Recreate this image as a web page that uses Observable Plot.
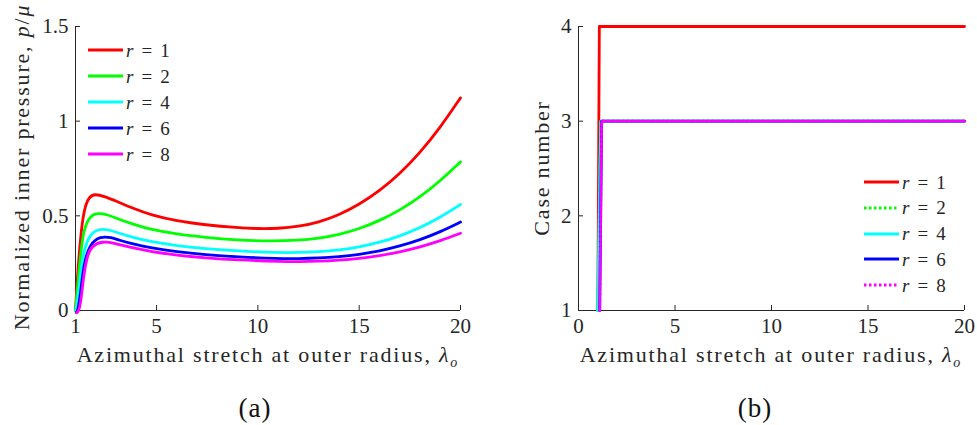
<!DOCTYPE html>
<html><head><meta charset="utf-8">
<script src="https://cdn.jsdelivr.net/npm/d3@7"></script>
<script src="https://cdn.jsdelivr.net/npm/@observablehq/plot@0.6"></script>
<style>
body{margin:0;background:#fff;font-family:"Liberation Serif","Times New Roman",serif;}
#wrap{position:relative;width:977px;height:425px;overflow:hidden;background:#fff}
.panel{position:absolute;top:0}
.lab{position:absolute;font-size:22px;letter-spacing:1.8px;color:#262626;white-space:nowrap;line-height:1}
.cap{position:absolute;font-size:27px;letter-spacing:1px;color:#111;white-space:nowrap;line-height:1}
.rot{transform:translate(-50%,-50%) rotate(-90deg)}
.ctr{transform:translate(-50%,-50%)}
.leg{position:absolute;font-size:19px;color:#262626;white-space:nowrap;line-height:1}
.leg .row{position:absolute;left:0;display:flex;align-items:center;height:24px}
.leg svg{display:block}
.leg .txt{margin-left:3px}
.leg .eq{padding:0 8px}
sub{font-size:14px;vertical-align:-5px;letter-spacing:0}
</style>
</head><body>
<div id="wrap"></div>
<script>
// ---------- data ----------
const rValues = [1, 2, 4, 6, 8];
const colors = ["#ff0000", "#00ff00", "#00ffff", "#0000ff", "#ff00ff"];

// panel (a): normalized inner pressure vs azimuthal stretch
const lamR1 = [1, 1.08, 1.25, 1.41, 1.65, 1.95, 2.4, 3, 3.9, 4.7, 6, 7.4, 9, 10, 11, 12, 13, 14, 15, 16, 17, 18, 19, 20];
const pR1   = [0, 0.16, 0.39, 0.53, 0.6, 0.616, 0.604, 0.578, 0.537, 0.505, 0.472, 0.452, 0.437, 0.432, 0.433, 0.443, 0.466, 0.504, 0.56, 0.631, 0.721, 0.833, 0.966, 1.123];
const lamR2 = [1, 1.1, 1.25, 1.41, 1.7, 2.07, 2.6, 3, 3.9, 4.7, 6, 7.4, 9, 10.5, 12, 13, 14, 15, 16, 17, 18, 19, 20];
const pR2   = [0, 0.12, 0.3, 0.43, 0.498, 0.516, 0.506, 0.487, 0.454, 0.428, 0.403, 0.386, 0.372, 0.366, 0.370, 0.381, 0.401, 0.431, 0.474, 0.529, 0.599, 0.684, 0.785];
const lamR4 = [1.02, 1.12, 1.25, 1.41, 1.7, 2.15, 2.7, 3.1, 3.9, 4.7, 6, 7.4, 9, 11, 12, 13, 14, 15, 16, 17, 18, 19, 20];
const pR4   = [0, 0.06, 0.195, 0.317, 0.402, 0.433, 0.425, 0.41, 0.384, 0.364, 0.342, 0.327, 0.314, 0.305, 0.306, 0.310, 0.319, 0.335, 0.359, 0.393, 0.436, 0.492, 0.56];
const lamR6 = [1.04, 1.12, 1.25, 1.41, 1.7, 2.23, 2.8, 3.1, 3.9, 4.7, 6, 7.4, 9, 11, 12, 13, 14, 15, 16, 17, 18, 19, 20];
const pR6   = [-0.01, 0.0, 0.09, 0.247, 0.352, 0.393, 0.385, 0.373, 0.349, 0.331, 0.31, 0.295, 0.283, 0.274, 0.274, 0.277, 0.284, 0.296, 0.314, 0.340, 0.373, 0.415, 0.467];
const lamR8 = [1.06, 1.14, 1.25, 1.41, 1.58, 1.8, 2.32, 2.9, 3.9, 4.7, 6, 7.4, 9, 11.3, 12, 13, 14, 15, 16, 17, 18, 19, 20];
const pR8   = [-0.012, -0.005, 0.03, 0.19, 0.29, 0.342, 0.366, 0.357, 0.328, 0.312, 0.292, 0.278, 0.267, 0.258, 0.258, 0.260, 0.266, 0.275, 0.289, 0.309, 0.335, 0.368, 0.408];

// panel (b): case number vs azimuthal stretch
const caseLam = [[1.0, 1.08, 20], [1.0, 1.15, 20], [1.0, 1.15, 20], [1.1, 1.2, 20], [1.1, 1.2, 20]];
const caseNum = [[1, 4, 4], [1, 3, 3], [1, 3, 3], [1, 3, 3], [1, 3, 3]];
const caseDash = [null, "2.5,2.5", null, null, "2.5,2.5"];

// axes
const xDomainA = [1, 20], xTicksA = [1, 5, 10, 15, 20];
const yDomainA = [0, 1.5], yTicksA = [0, 0.5, 1, 1.5];
const xDomainB = [0, 20], xTicksB = [0, 5, 10, 15, 20];
const yDomainB = [1, 4], yTicksB = [1, 2, 3, 4];
const xLabel = 'Azimuthal stretch at outer radius, <i>λ</i><sub><i>o</i></sub>';
const yLabelA = 'Normalized inner pressure, <i>p</i>/<i>μ</i>';
const yLabelB = 'Case number';
const captions = ["(a)", "(b)"];

// ---------- build tables ----------
const lamA = [lamR1, lamR2, lamR4, lamR6, lamR8];
const pA = [pR1, pR2, pR4, pR6, pR8];
const seriesA = rValues.map((r, i) => lamA[i].map((x, j) => ({x, y: pA[i][j], r})));
const seriesB = rValues.map((r, i) => caseLam[i].map((x, j) => ({x, y: caseNum[i][j], r})));

const ink = "#262626";
const wrap = document.getElementById("wrap");

function axes(xd, xt, yd, yt) {
  return [
    Plot.ruleX([xd[0]], {stroke: ink, strokeWidth: 1}),
    Plot.ruleY([yd[0]], {stroke: ink, strokeWidth: 1}),
    Plot.axisX({ticks: xt, tickSize: -5, tickPadding: 13, label: null, tickFormat: d => String(d), stroke: ink, fill: ink}),
    Plot.axisY({ticks: yt, tickSize: -5, tickPadding: 12, label: null, tickFormat: d => String(d), stroke: ink, fill: ink})
  ];
}

const common = {height: 345, marginTop: 26, marginBottom: 35, style: {fontFamily: '"Liberation Serif", serif', fontSize: "21px", color: ink, background: "white", overflow: "visible"}};

const plotA = Plot.plot({
  ...common, width: 480, marginLeft: 75, marginRight: 20,
  x: {domain: xDomainA}, y: {domain: yDomainA},
  marks: [
    ...axes(xDomainA, xTicksA, yDomainA, yTicksA),
    ...seriesA.map((s, i) => Plot.line(s, {x: "x", y: "y", stroke: colors[i], strokeWidth: 2.8, curve: "basis"}))
  ]
});
plotA.classList.add("panel"); plotA.style.left = "0px";
wrap.appendChild(plotA);

const plotB = Plot.plot({
  ...common, width: 497, marginLeft: 98, marginRight: 13,
  x: {domain: xDomainB}, y: {domain: yDomainB},
  marks: [
    ...axes(xDomainB, xTicksB, yDomainB, yTicksB),
    ...seriesB.map((s, i) => Plot.line(s, {x: "x", y: "y", stroke: colors[i], strokeWidth: 2.8, strokeDasharray: caseDash[i] || undefined}))
  ]
});
plotB.classList.add("panel"); plotB.style.left = "480px";
wrap.appendChild(plotB);

function addLabel(html, x, y, cls) {
  const d = document.createElement("div");
  d.className = cls;
  d.innerHTML = html;
  d.style.left = x + "px"; d.style.top = y + "px";
  wrap.appendChild(d);
}
addLabel(xLabel, 267, 357, "lab ctr");
addLabel(xLabel, 770, 357, "lab ctr");
addLabel(yLabelA, 22, 167, "lab rot");
addLabel(yLabelB, 542, 168, "lab rot");
addLabel(captions[0], 255, 408, "cap ctr");
addLabel(captions[1], 755, 408, "cap ctr");

function addLegend(left, top, step, dashes) {
  const lg = document.createElement("div");
  lg.className = "leg";
  lg.style.left = left + "px"; lg.style.top = top + "px";
  rValues.forEach((r, i) => {
    const row = document.createElement("div");
    row.className = "row";
    row.style.top = (i * step - 12) + "px";
    const dash = dashes && dashes[i] ? ` stroke-dasharray="${dashes[i]}"` : "";
    row.innerHTML = `<svg width="35" height="6"><line x1="0" y1="3" x2="35" y2="3" stroke="${colors[i]}" stroke-width="2.8"${dash}/></svg><span class="txt"><i>r</i><span class="eq">=</span>${r}</span>`;
    lg.appendChild(row);
  });
  wrap.appendChild(lg);
}
addLegend(88, 50, 26, null);
addLegend(864, 182, 25.8, caseDash);
</script>
</body></html>
